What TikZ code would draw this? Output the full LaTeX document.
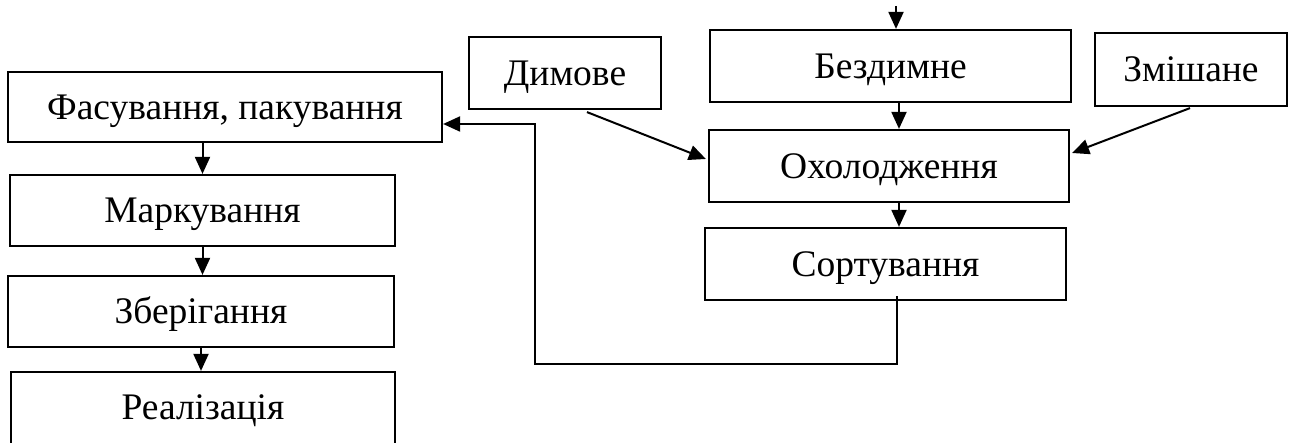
\documentclass[tikz,border=0pt]{standalone}
\usepackage{fontspec}
\setmainfont{Liberation Serif}
\usetikzlibrary{arrows.meta,calc}
\begin{document}
\begin{tikzpicture}[x=1pt,y=-1pt,
  box/.style={draw=black,line width=2.2pt,inner sep=0pt,text height=24.5pt,text depth=0pt,
    font=\fontsize{37.5}{42}\selectfont},
  arr/.style={line width=2pt,-{Triangle[length=17pt,width=15pt]}},
  ln/.style={line width=2pt}]
\useasboundingbox (0,0) rectangle (1294,443);
\clip (0,0) rectangle (1294,443);
% left column
\node[box,minimum width=434pt,minimum height=70pt] (fas) at (225,107) {Фасування, пакування};
\node[box,minimum width=385pt,minimum height=71pt] (mark) at (202.5,210.5) {Маркування};
\node[box,minimum width=386pt,minimum height=71pt] (zber) at (201,311.5) {Зберігання};
\node[box,minimum width=384pt,minimum height=74pt,text depth=3pt] (real) at (203,409) {Реалізація};
% right part
\node[box,minimum width=192pt,minimum height=72pt] (dym) at (565,73) {Димове};
\node[box,minimum width=361pt,minimum height=72pt] (bez) at (890.5,66) {Бездимне};
\node[box,minimum width=192pt,minimum height=73pt] (zmi) at (1191,69.5) {Змішане};
\node[box,minimum width=360pt,minimum height=72pt] (oxo) at (889,166) {Охолодження};
\node[box,minimum width=361pt,minimum height=72pt] (sort) at (885.5,264) {Сортування};
% coordinates
\coordinate (top) at (896,6);
\coordinate (xc) at (899,0);
\coordinate (fb1) at ($(sort.south)+(11.5,-5)$);
\coordinate (fb2) at (535,364);
\coordinate (fbin) at ($(fas.east)+(0,17)$);
% arrows
\draw[arr] (top) -- (top |- bez.north);
\draw[arr] (bez.south -| xc) -- (oxo.north -| xc);
\draw[arr] (oxo.south -| xc) -- (sort.north -| xc);
\draw[arr] ($(dym.south)+(22,2)$) -- ($(oxo.west)+(-2,-7)$);
\draw[arr] ($(zmi.south)+(-1,1)$) -- ($(oxo.east)+(2,-13)$);
\draw[arr] (fas.south -| mark.north) -- (mark.north);
\draw[arr] (mark.south) -- (zber.north -| mark.south);
\draw[arr] (zber.south) -- (real.north -| zber.south);
\draw[arr] (fb1) |- (fb2) |- (fbin);
\end{tikzpicture}
\end{document}
